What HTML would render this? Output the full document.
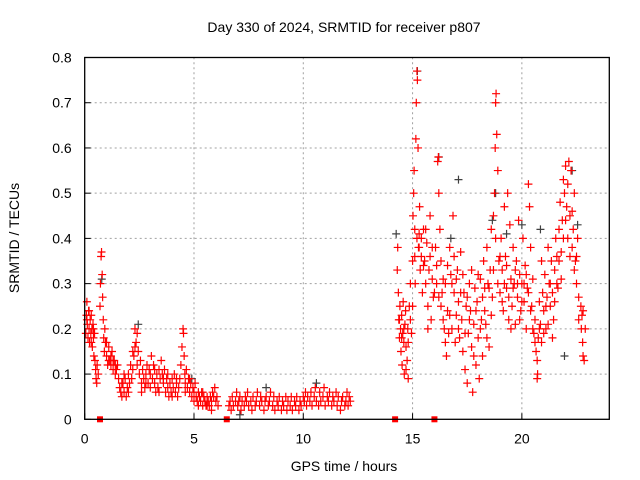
<!DOCTYPE html>
<html><head><meta charset="utf-8"><style>
body{margin:0;background:#fff;}
svg{display:block;font-family:"Liberation Sans",sans-serif;}
</style></head><body>
<svg id="chart" width="640" height="480" xmlns="http://www.w3.org/2000/svg">
<rect width="640" height="480" fill="#fff"/>
<text x="344" y="32" font-size="14" text-anchor="middle">Day 330 of 2024, SRMTID for receiver p807</text>
<text x="344" y="471" font-size="14" text-anchor="middle">GPS time / hours</text>
<text transform="translate(19,238) rotate(-90)" font-size="14" text-anchor="middle">SRMTID / TECUs</text>
<g id="grid"></g>
<g id="ticks"></g>
<g id="black"></g>
<g id="red"></g>
<g id="marks"></g>
<rect x="84.7" y="57.5" width="524.6" height="361.8" fill="none" stroke="#000" stroke-width="1.3"/>
</svg>
<script>
const xTicks=[0,5,10,15,20];
const yTicks=[0,0.1,0.2,0.3,0.4,0.5,0.6,0.7,0.8];
const yTickLabels=["0","0.1","0.2","0.3","0.4","0.5","0.6","0.7","0.8"];
const markerTimes=[0.7,6.5,14.2,16.0];
const redPts=[
[0.05,0.19],[0.08,0.23],[0.1,0.26],[0.12,0.21],[0.15,0.18],[0.18,0.24],[0.2,0.2],[0.22,0.17],[0.25,0.22],[0.28,0.19],[0.3,0.23],[0.33,0.2],[0.35,0.16],[0.38,0.21],[0.4,0.18],[0.42,0.14],[0.45,0.19],[0.47,0.13],[0.5,0.11],[0.52,0.09],[0.55,0.08],[0.57,0.12],
[0.7,0.25],[0.72,0.3],[0.75,0.36],[0.77,0.37],[0.8,0.32],[0.82,0.27],[0.85,0.22],[0.87,0.18],[0.9,0.15],[0.92,0.2],[0.95,0.17],[1.0,0.14],[1.05,0.12],[1.1,0.16],[1.15,0.13],[1.2,0.12],[1.25,0.15],[1.3,0.11],[1.35,0.13],[1.4,0.12],[1.45,0.11],[1.5,0.12],[1.55,0.09],
[1.6,0.07],[1.65,0.06],[1.7,0.05],[1.75,0.08],[1.8,0.06],[1.85,0.09],[1.9,0.05],[1.95,0.07],[2.0,0.1],[2.05,0.08],[2.1,0.12],[2.15,0.09],[2.2,0.11],[2.25,0.14],[2.3,0.2],[2.35,0.17],[2.4,0.19],[2.45,0.15],[2.5,0.1],[2.55,0.13],[2.6,0.08],[2.65,0.11],[2.7,0.09],[2.75,0.07],[2.8,0.1],[2.85,0.12],[2.9,0.08],[2.95,0.11],[3.0,0.1],[3.05,0.14],[3.1,0.09],[3.15,0.12],[3.2,0.08],[3.25,0.06],[3.3,0.1],[3.35,0.07],[3.4,0.11],[3.45,0.09],[3.5,0.13],[3.55,0.1],[3.6,0.08],[3.65,0.11],[3.7,0.06],[3.75,0.09],[3.8,0.07],[3.85,0.05],[3.9,0.08],[3.95,0.06],[4.0,0.09],[4.05,0.07],[4.1,0.1],[4.15,0.06],[4.2,0.08],[4.25,0.05],[4.3,0.07],[4.35,0.09],[4.4,0.12],[4.45,0.16],[4.5,0.2],[4.52,0.19],[4.55,0.14],[4.58,0.1],[4.6,0.08],[4.65,0.11],[4.7,0.07],[4.75,0.09],[4.8,0.06],[4.85,0.08],[4.9,0.05],[4.95,0.07],[5.0,0.06],[5.05,0.08],[5.1,0.05],[5.15,0.04],[5.2,0.06],[5.25,0.05],[5.3,0.04],[5.35,0.06],[5.4,0.03],[5.45,0.05],[5.5,0.04],[5.55,0.03],[5.6,0.05],[5.65,0.04],[5.7,0.03],[5.75,0.05],[5.8,0.04],[5.85,0.06],[5.9,0.05],[5.95,0.07],[6.0,0.04],[6.05,0.05],[6.1,0.03],
[6.6,0.03],[6.65,0.04],[6.7,0.02],[6.75,0.05],[6.8,0.03],[6.9,0.04],[6.95,0.06],[7.0,0.03],[7.05,0.04],[7.1,0.05],[7.15,0.02],[7.2,0.04],[7.3,0.03],[7.35,0.05],[7.4,0.04],[7.45,0.06],[7.5,0.03],[7.6,0.04],[7.65,0.02],[7.7,0.05],[7.8,0.03],[7.85,0.04],[7.9,0.06],[8.0,0.03],[8.05,0.05],[8.1,0.04],[8.2,0.02],[8.25,0.04],[8.3,0.05],[8.4,0.03],[8.45,0.04],[8.5,0.06],[8.6,0.03],[8.65,0.05],[8.7,0.02],[8.8,0.04],[8.85,0.03],[8.9,0.05],[9.0,0.02],[9.05,0.04],[9.1,0.03],[9.2,0.05],[9.25,0.02],[9.3,0.04],[9.4,0.03],[9.45,0.05],[9.5,0.02],[9.6,0.04],[9.65,0.03],[9.7,0.05],[9.8,0.02],[9.85,0.04],[9.9,0.03],[10.0,0.05],[10.05,0.04],[10.1,0.06],[10.15,0.03],[10.2,0.05],[10.3,0.04],[10.35,0.06],[10.4,0.03],[10.5,0.05],[10.55,0.07],[10.6,0.04],[10.7,0.03],[10.75,0.06],[10.8,0.04],[10.9,0.05],[10.95,0.07],[11.0,0.03],[11.1,0.05],[11.15,0.04],[11.2,0.06],[11.3,0.03],[11.35,0.05],[11.4,0.04],[11.5,0.06],[11.55,0.03],[11.6,0.05],[11.7,0.02],[11.75,0.04],[11.8,0.05],[11.9,0.03],[11.95,0.04],[12.0,0.06],[12.05,0.03],[12.1,0.05],[12.15,0.04],
[14.3,0.33],[14.32,0.38],[14.35,0.28],[14.37,0.22],[14.4,0.18],[14.42,0.25],[14.45,0.2],[14.47,0.15],[14.5,0.23],[14.52,0.12],[14.55,0.19],[14.57,0.26],[14.6,0.17],[14.62,0.1],[14.65,0.21],[14.68,0.24],[14.7,0.16],[14.75,0.13],[14.78,0.2],[14.8,0.09],[14.85,0.25],[14.9,0.3],[14.95,0.19],
[15.0,0.35],[15.02,0.45],[15.05,0.5],[15.07,0.55],[15.1,0.42],[15.12,0.3],[15.15,0.62],[15.17,0.7],[15.2,0.77],[15.22,0.75],[15.25,0.6],[15.27,0.38],[15.3,0.41],[15.32,0.47],[15.35,0.33],[15.4,0.4],[15.45,0.28],[15.5,0.42],[15.55,0.35],[15.6,0.3],[15.65,0.39],[15.7,0.25],[15.75,0.33],[15.8,0.45],[15.85,0.22],[15.9,0.31],[15.95,0.27],
[16.05,0.38],[16.1,0.3],[16.15,0.57],[16.18,0.58],[16.2,0.5],[16.25,0.42],[16.3,0.35],[16.35,0.28],[16.4,0.22],[16.45,0.2],[16.5,0.3],[16.55,0.14],[16.6,0.24],[16.65,0.19],[16.7,0.38],[16.75,0.32],[16.8,0.2],[16.85,0.45],[16.9,0.28],[16.95,0.17],[17.0,0.23],[17.05,0.33],[17.1,0.26],[17.15,0.18],
[17.2,0.37],[17.25,0.22],[17.3,0.15],[17.35,0.28],[17.4,0.11],[17.45,0.25],[17.5,0.08],[17.55,0.19],[17.6,0.3],[17.65,0.24],[17.7,0.16],[17.75,0.06],[17.8,0.21],[17.85,0.29],[17.9,0.12],[17.95,0.26],[18.0,0.18],[18.05,0.09],[18.1,0.31],[18.15,0.22],
[18.2,0.27],[18.25,0.35],[18.3,0.29],[18.35,0.21],[18.4,0.38],[18.45,0.3],[18.5,0.16],[18.55,0.33],[18.6,0.42],[18.65,0.27],[18.7,0.45],[18.75,0.5],[18.78,0.6],[18.8,0.7],[18.82,0.72],[18.85,0.63],[18.9,0.55],[18.95,0.35],[19.0,0.28],
[19.05,0.4],[19.1,0.33],[19.15,0.24],[19.2,0.47],[19.25,0.36],[19.3,0.29],[19.35,0.5],[19.4,0.22],[19.45,0.43],[19.5,0.31],[19.55,0.25],[19.6,0.38],[19.65,0.3],[19.7,0.21],[19.75,0.35],[19.8,0.27],[19.85,0.44],[19.9,0.32],[19.95,0.24],[20.0,0.3],[20.05,0.4],[20.1,0.26],[20.15,0.34],[20.2,0.2],[20.25,0.29],
[20.3,0.52],[20.35,0.47],[20.4,0.38],[20.45,0.25],[20.5,0.31],[20.55,0.19],[20.6,0.22],[20.65,0.15],[20.7,0.09],[20.72,0.1],[20.75,0.18],[20.8,0.26],[20.85,0.21],[20.9,0.35],[20.95,0.28],[21.0,0.24],
[21.05,0.32],[21.1,0.2],[21.15,0.27],[21.2,0.38],[21.25,0.3],[21.3,0.25],[21.35,0.35],[21.4,0.28],[21.45,0.22],[21.5,0.33],[21.55,0.4],[21.6,0.36],[21.65,0.29],[21.7,0.42],[21.75,0.48],[21.8,0.37],[21.85,0.44],[21.9,0.53],[21.95,0.5],
[22.0,0.56],[22.05,0.47],[22.1,0.52],[22.15,0.57],[22.2,0.45],[22.25,0.55],[22.3,0.38],[22.35,0.42],[22.4,0.5],[22.45,0.35],[22.5,0.3],[22.55,0.4],[22.6,0.27],
[22.7,0.25],[22.72,0.2],[22.75,0.23],[22.78,0.17],[22.8,0.14],[22.85,0.13],[22.9,0.2]
];
const redExtra=[
[0.1,0.22],[0.2,0.24],[0.3,0.17],[0.4,0.2],[0.62,0.1],[1.0,0.17],[1.1,0.13],[1.2,0.14],[1.3,0.13],[1.4,0.1],[1.7,0.08],[1.8,0.1],[2.0,0.06],[2.2,0.15],[2.3,0.16],[2.4,0.12],[2.6,0.06],[2.8,0.08],[3.0,0.07],[3.2,0.11],[3.4,0.06],[3.6,0.09],[3.8,0.1],[4.0,0.05],[4.2,0.09],[4.6,0.06],[4.8,0.09],[5.0,0.04],[5.2,0.03],[5.4,0.06],[5.6,0.03],[5.8,0.02],
[14.4,0.22],[14.5,0.18],[14.6,0.2],[14.7,0.11],[14.8,0.17],[14.9,0.22],[15.0,0.25],[15.1,0.36],[15.2,0.4],[15.3,0.38],[15.4,0.36],[15.5,0.34],[15.6,0.42],[15.7,0.2],[15.8,0.36],[15.9,0.38],[16.0,0.28],
[16.1,0.34],[16.2,0.27],[16.3,0.25],[16.4,0.31],[16.5,0.17],[16.6,0.34],[16.7,0.23],[16.8,0.3],[16.9,0.36],[17.0,0.31],[17.1,0.2],[17.2,0.28],[17.3,0.32],[17.4,0.19],[17.5,0.27],[17.6,0.22],[17.7,0.33],[17.8,0.14],[17.9,0.24],[18.0,0.32],[18.1,0.2],[18.2,0.14],[18.3,0.24],[18.4,0.18],[18.5,0.29],[18.6,0.23],[18.7,0.33],[18.8,0.4],[18.9,0.3],
[19.0,0.36],[19.1,0.26],[19.2,0.3],[19.3,0.34],[19.4,0.27],[19.5,0.2],[19.6,0.29],[19.7,0.33],[19.8,0.3],[19.9,0.22],[20.0,0.26],[20.1,0.3],[20.2,0.32],[20.3,0.28],[20.4,0.24],[20.5,0.2],[20.6,0.17],[20.7,0.13],[20.8,0.2],[20.9,0.17],[21.0,0.19],[21.1,0.25],[21.2,0.21],[21.3,0.3],[21.4,0.18],[21.5,0.26],[21.6,0.3],[21.7,0.35],[21.8,0.31],[21.9,0.4],[22.0,0.44],[22.1,0.4],[22.2,0.36],[22.3,0.46],[22.4,0.33],[22.5,0.36],[22.6,0.22],[22.8,0.24]
];
const blackPts=[
[0.78,0.31],[2.45,0.21],[4.9,0.09],[7.1,0.01],[8.3,0.07],[10.6,0.08],[14.25,0.41],[15.22,0.77],[16.2,0.58],[17.1,0.53],[18.8,0.5],[19.3,0.41],[20.0,0.43],[20.85,0.42],[21.95,0.14],[22.3,0.55],[22.55,0.43],[16.75,0.4],[18.65,0.44]
];
const X0=84.7,X1=609.3,Y0=419.3,Y1=57.5,XMAX=24,YMAX=0.8;
function sx(t){return X0+(X1-X0)*t/XMAX;}
function sy(v){return Y0-(Y0-Y1)*v/YMAX;}
const NS="http://www.w3.org/2000/svg";
function mk(tag,attrs,parent){const e=document.createElementNS(NS,tag);for(const k in attrs)e.setAttribute(k,attrs[k]);parent.appendChild(e);return e;}
const grid=document.getElementById('grid'),ticks=document.getElementById('ticks');
xTicks.forEach(t=>{
 const x=sx(t);
 if(t>0){const g=mk('line',{x1:x,x2:x,y1:Y0,y2:Y1,stroke:'#a0a0a0','stroke-dasharray':'2,3','stroke-width':1},grid);
 
 }
 const l=mk('line',{x1:x,x2:x,y1:Y0,y2:Y0-6,stroke:'#000'},ticks);
 
 
 const tx=mk('text',{x:x,y:Y0+24,'font-size':14,'text-anchor':'middle'},ticks);tx.textContent=t;
 
 
});
yTicks.forEach((v,i)=>{
 const y=sy(v);
 if(v>0&&v<0.8){const g=mk('line',{x1:X0,x2:X1,y1:y,y2:y,stroke:'#a0a0a0','stroke-dasharray':'2,3','stroke-width':1},grid);
 
 }
 const l=mk('line',{x1:X0,x2:X0+6,y1:y,y2:y,stroke:'#000'},ticks);
 
 
 const tx=mk('text',{x:X0-13,y:y+5,'font-size':14,'text-anchor':'end'},ticks);tx.textContent=yTickLabels[i];
 
 
});
function plus(p,col,parent,name){
 const x=sx(p[0]),y=sy(p[1]);
 const e=mk('path',{d:`M${x-4},${y}H${x+4}M${x},${y-4}V${y+4}`,stroke:col,'stroke-width':1.2,fill:'none'},parent);
 
 
}
blackPts.forEach(p=>plus(p,'#404040',document.getElementById('black'),'black-point'));
redPts.forEach(p=>plus(p,'#ff0000',document.getElementById('red'),'red-point'));
redExtra.forEach(p=>plus(p,'#ff0000',document.getElementById('red'),'red-point'));
const marks=document.getElementById('marks');
markerTimes.forEach(t=>{
 const r=mk('rect',{x:sx(t)-3,y:Y0-3,width:6,height:6,fill:'#ff0000'},marks);
 
 
});
</script>
</body></html>
